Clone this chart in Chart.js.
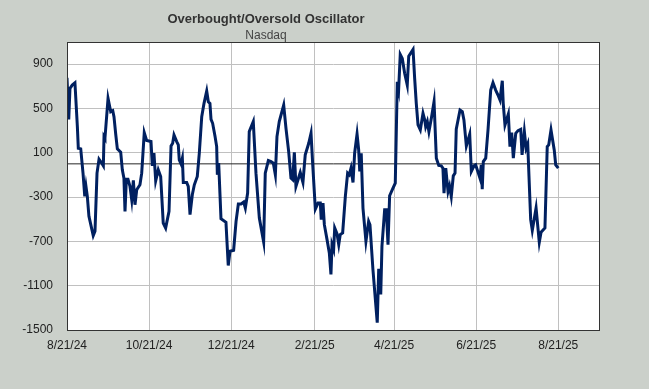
<!DOCTYPE html>
<html>
<head>
<meta charset="utf-8">
<title>Overbought/Oversold Oscillator</title>
<script src="https://cdn.jsdelivr.net/npm/chart.js@4.4.1/dist/chart.umd.min.js"></script>
<style>
  html, body { margin: 0; padding: 0; background: #cbd0ca; }
  #wrap { width: 649px; height: 389px; }
</style>
</head>
<body>
<div id="wrap"><canvas id="oscChart" width="649" height="389"></canvas></div>
<script>
// days since 8/21/24 and oscillator reading
const days = [
  0, 1.3, 2.2, 3.9, 5.9, 7.7, 8.4, 10.2, 11.9, 13.2, 14.1, 15.1, 16.3, 19.5, 20.8, 22.3, 23.8, 25.5, 27.0, 27.5,
  28.2, 30.5, 32.5, 34.0, 34.9, 36.2, 37.4, 39.9, 41.1, 42.3, 43.1, 44.1, 45.3, 46.8, 48.1, 49.3, 50.5, 51.8, 54.2, 55.5,
  57.4, 59.2, 62.4, 63.4, 64.6, 65.9, 67.8, 69.6, 71.5, 73.3, 75.8, 77.3, 78.5, 79.5, 81.5, 82.7, 83.4, 84.7, 85.7, 86.4,
  88.9, 90.1, 91.4, 93.1, 94.6, 96.8, 98.3, 100.1, 101.8, 103.8, 105.0, 106.2, 107.0, 108.2, 110.0, 111.2, 111.7, 112.7, 114.4, 118.1,
  119.8, 121.1, 123.8, 125.6, 127.3, 129.3, 131.3, 132.5, 134.2, 135.4, 138.4, 140.4, 142.9, 146.1, 147.3, 149.6, 151.6, 153.3, 154.8, 156.0,
  157.7, 161.0, 162.7, 164.7, 166.4, 167.7, 168.9, 170.1, 173.3, 175.3, 177.0, 179.6, 181.3, 182.5, 184.5, 186.5, 188.2, 188.9, 190.2, 191.2,
  193.2, 194.9, 196.1, 196.9, 198.1, 198.9, 200.6, 201.9, 203.0, 204.8, 206.8, 208.5, 209.7, 211.0, 212.5, 213.7, 215.5, 216.7, 217.5, 218.6,
  219.9, 222.1, 224.1, 225.1, 227.3, 230.5, 231.6, 233.1, 234.0, 236.0, 237.2, 238.5, 239.7, 242.2, 243.9, 245.4, 246.4, 247.6, 249.1, 250.9,
  252.8, 253.9, 257.1, 258.3, 259.5, 260.8, 262.5, 264.5, 265.8, 266.5, 267.7, 268.9, 270.7, 272.7, 274.4, 276.2, 278.1, 279.3, 280.1, 281.4,
  283.1, 284.2, 285.5, 287.0, 288.3, 289.2, 292.0, 293.7, 294.9, 296.7, 299.2, 300.4, 302.4, 303.6, 305.6, 306.8, 307.8, 308.5, 309.3, 311.1,
  312.8, 313.5, 314.8, 316.5, 318.5, 320.2, 321.7, 323.4, 324.1, 325.4, 327.9, 329.1, 330.4, 331.6, 333.4, 335.1, 337.1, 338.1, 339.8, 341.1,
  342.3, 344.5, 345.7, 348.5, 350.9, 352.2, 355.1, 356.8, 357.9, 359.6, 362.0, 363.1, 365
];
const values = [
  777, 402, 681, 711, 732, 336, 141, 135, -84, -294, -204, -294, -474, -648, -609, -84, 42, 12, -18, 246,
  231, 591, 471, 480, 426, 267, 135, 105, -54, -129, -429, -138, -138, -204, -324, -150, -369, -234, -189, -84,
  282, 210, 201, -18, 96, -153, -54, -114, -534, -579, -429, 162, 186, 261, 201, 171, 36, 0, 51, -168,
  -168, -204, -459, -279, -189, -114, 96, 426, 546, 657, 561, 546, 402, 366, 246, 156, -99, 6, -495, -528,
  -918, -789, -780, -519, -363, -363, -345, -399, -264, 291, 381, -84, -489, -705, -84, 30, 21, 6, -99, 246,
  381, 531, 321, 111, -129, -144, 105, -204, -78, -168, 81, 186, 276, 6, -408, -354, -354, -504, -354, -549,
  -684, -804, -999, -729, -774, -579, -630, -729, -639, -624, -294, -84, -99, -39, -168, 96, 270, 126, -69, 96,
  -399, -699, -519, -550, -954, -1434, -948, -1179, -744, -414, -414, -729, -288, -219, -174, 741, 672, 987, 951, 816,
  711, 972, 1032, 771, 546, 351, 306, 456, 396, 336, 381, 291, 411, 561, 51, -15, -18, -39, -264, -39,
  -249, -200, -294, -108, -84, 312, 486, 471, 396, 162, 267, -69, -18, -9, -84, -129, -9, -228, 21, 51,
  306, 306, 666, 732, 666, 621, 576, 750, 546, 351, 450, 156, 282, 51, 276, 300, 312, 81, 291, 141,
  180, -504, -600, -399, -708, -618, -579, 156, 171, 306, 126, -9, -39
];

const startDate = '2024-08-21';
const endDate = '2025-09-21';
const tickDates = ['2024-08-21', '2024-10-21', '2024-12-21', '2025-02-21', '2025-04-21', '2025-06-21', '2025-08-21'];
const xTickLabels = ['8/21/24', '10/21/24', '12/21/24', '2/21/25', '4/21/25', '6/21/25', '8/21/25'];
const yTicks = [-1500, -1100, -700, -300, 100, 500, 900];

function dayOf(s) {
  return (Date.parse(s) - Date.parse(startDate)) / 86400000;
}
const xMax = dayOf(endDate);
const tickDays = tickDates.map(dayOf);

const frame = {
  id: 'frame',
  beforeDraw(chart) {
    const { ctx, chartArea: a } = chart;
    ctx.save();
    ctx.fillStyle = '#cbd0ca';
    ctx.fillRect(0, 0, chart.width, chart.height);
    ctx.fillStyle = '#ffffff';
    ctx.fillRect(a.left, a.top, a.right - a.left, a.bottom - a.top);
    ctx.restore();
  },
  afterDraw(chart) {
    const { ctx, chartArea: a } = chart;
    ctx.save();
    ctx.strokeStyle = '#333333';
    ctx.lineWidth = 1;
    ctx.strokeRect(a.left + 0.5, a.top + 0.5, a.right - a.left - 1, a.bottom - a.top);
    // title + subtitle
    ctx.textAlign = 'center';
    ctx.textBaseline = 'alphabetic';
    ctx.fillStyle = '#333333';
    ctx.font = 'bold 13px "Liberation Sans", Arial, sans-serif';
    ctx.fillText('Overbought/Oversold Oscillator', 266, 23);
    ctx.fillStyle = '#444444';
    ctx.font = '12px "Liberation Sans", Arial, sans-serif';
    ctx.fillText('Nasdaq', 266, 39);
    ctx.restore();
  }
};

const ctx = document.getElementById('oscChart');
const oscChart = new Chart(ctx, {
  type: 'line',
  data: {
    datasets: [{
      label: 'Oscillator',
      data: days.map((d, i) => ({ x: d, y: values[i] })),
      borderColor: '#002060',
      borderWidth: 3,
      pointRadius: 0,
      tension: 0,
      fill: false
    }, {
      label: 'zero',
      data: [{ x: 0, y: 0 }, { x: xMax, y: 0 }],
      borderColor: '#262626',
      borderWidth: 1,
      pointRadius: 0,
      fill: false
    }]
  },
  options: {
    responsive: false,
    animation: false,
    layout: {
      padding: { top: 42, right: 49, bottom: 0, left: 0 }
    },
    plugins: {
      legend: { display: false },
      tooltip: { enabled: false }
    },
    scales: {
      x: {
        type: 'linear',
        min: 0,
        max: xMax,
        afterBuildTicks: function (scale) {
          scale.ticks = tickDays.map(v => ({ value: v }));
        },
        afterFit: function (scale) {
          scale.height = 59;
        },
        ticks: {
          autoSkip: false,
          maxRotation: 0,
          padding: 8,
          color: '#222222',
          font: { family: '"Liberation Sans", Arial, sans-serif', size: 12 },
          callback: function (value, index) {
            return xTickLabels[index];
          }
        },
        grid: {
          color: '#c0c0c0',
          drawTicks: false
        },
        border: { display: false }
      },
      y: {
        min: -1500,
        max: 1100,
        afterBuildTicks: function (scale) {
          scale.ticks = yTicks.map(v => ({ value: v }));
        },
        afterFit: function (scale) {
          scale.width = 67;
        },
        ticks: {
          padding: 14,
          color: '#222222',
          font: { family: '"Liberation Sans", Arial, sans-serif', size: 12 },
          callback: function (value) {
            return String(value);
          }
        },
        grid: {
          color: '#c0c0c0',
          drawTicks: false
        },
        border: { display: false }
      }
    }
  },
  plugins: [frame]
});
</script>
</body>
</html>
